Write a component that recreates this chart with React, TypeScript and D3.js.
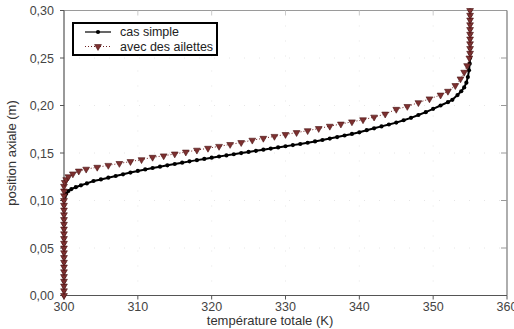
import * as d3 from 'd3'

// temperature (K) / axial position (m)
const simpleT = [
  300, 300, 300, 300, 300, 300, 300, 300, 300, 300, 300, 300, 300, 300, 300, 300, 300, 300, 300, 300, 300,
  300.1, 300.3, 300.6, 301.0, 301.6, 302.3, 303.1, 304, 305, 306, 307, 308, 309, 310, 311, 312, 313, 314, 315,
  316, 317, 318, 319, 320, 321, 322, 323, 324, 325, 326, 327, 328, 329, 330, 331, 332, 333, 334, 335, 336, 337,
  338, 339, 340, 341, 342, 343, 344, 345, 346, 347, 348, 349, 350, 351, 352, 352.6, 353.3, 353.8, 354.2, 354.5,
  354.7, 354.85, 354.95, 355, 355, 355, 355, 355, 355, 355, 355, 355, 355, 355,
]
const simpleY = [
  0, 0.005, 0.01, 0.015, 0.02, 0.025, 0.03, 0.035, 0.04, 0.045, 0.05, 0.055, 0.06, 0.065, 0.07, 0.075, 0.08, 0.085, 0.09, 0.095, 0.1,
  0.104, 0.107, 0.11, 0.112, 0.114, 0.116, 0.118, 0.1205, 0.1222, 0.124, 0.1258, 0.1276, 0.1294, 0.1311, 0.1327, 0.1342, 0.1356, 0.137, 0.1384,
  0.1398, 0.1412, 0.1425, 0.1438, 0.1451, 0.1463, 0.1475, 0.1487, 0.1499, 0.1511, 0.1523, 0.1535, 0.1547, 0.1559, 0.1571, 0.1583, 0.1595, 0.1608, 0.1622, 0.1637, 0.1652, 0.1668,
  0.1684, 0.1701, 0.1718, 0.174, 0.176, 0.178, 0.18, 0.182, 0.1845, 0.187, 0.19, 0.193, 0.1965, 0.2, 0.2035, 0.206, 0.211, 0.215, 0.219, 0.224,
  0.23, 0.237, 0.244, 0.25, 0.255, 0.26, 0.265, 0.27, 0.275, 0.28, 0.285, 0.29, 0.295, 0.3,
]

const finsT = [
  300, 300, 300, 300, 300, 300, 300, 300, 300, 300, 300, 300, 300, 300, 300, 300, 300, 300, 300, 300, 300, 300, 300, 300,
  300.1, 300.3, 300.6, 301.2, 302, 303, 304.5, 306, 307.5, 309, 310.5, 312, 313.5, 315, 316.5, 318, 319.5, 321, 322.5,
  324, 325.5, 327, 328.5, 330, 331.5, 333, 334.5, 336, 337.5, 339, 340.5, 342, 343.5, 345, 346.5, 348, 349.5, 351, 352,
  353, 353.7, 354.2, 354.6, 354.9, 355, 355, 355, 355, 355, 355, 355, 355, 355, 355,
]
const finsY = [
  0, 0.005, 0.01, 0.015, 0.02, 0.025, 0.03, 0.035, 0.04, 0.045, 0.05, 0.055, 0.06, 0.065, 0.07, 0.075, 0.08, 0.085, 0.09, 0.095, 0.1, 0.105, 0.11, 0.115,
  0.119, 0.122, 0.125, 0.128, 0.131, 0.133, 0.135, 0.137, 0.139, 0.141, 0.143, 0.1455, 0.147, 0.149, 0.151, 0.153, 0.155, 0.157, 0.159,
  0.161, 0.1635, 0.1655, 0.1675, 0.1695, 0.1715, 0.1735, 0.1758, 0.1782, 0.1805, 0.1828, 0.185, 0.1878, 0.191, 0.196, 0.199, 0.203, 0.207, 0.211, 0.215,
  0.221, 0.228, 0.235, 0.242, 0.25, 0.255, 0.26, 0.265, 0.27, 0.275, 0.28, 0.285, 0.29, 0.295, 0.3,
]

const xTicks = [300, 310, 320, 330, 340, 350, 360]
const yTicks = [0, 0.05, 0.1, 0.15, 0.2, 0.25, 0.3]
const seriesNames = ['cas simple', 'avec des ailettes']

const W = 514
const H = 329
const FONT = 'Liberation Sans, Arial, sans-serif'
const RED = '#6e2121'

export default function App() {
  const x = d3.scaleLinear().domain([300, 360]).range([64, 507])
  const y = d3.scaleLinear().domain([0, 0.3]).range([295.5, 10.5])

  const simple = simpleT.map((t, i) => [t, simpleY[i]] as [number, number])
  const fins = finsT.map((t, i) => [t, finsY[i]] as [number, number])

  const line = d3.line<[number, number]>().x(d => x(d[0])).y(d => y(d[1]))
  const tri = d3.symbol().type(d3.symbolTriangle).size(20)()

  const fmt = (v: number) => v.toFixed(2).replace('.', ',')
  const [x0, x1] = x.range()
  const [y0, y1] = y.range()

  return (
    <svg width={W} height={H} style={{ position: 'absolute', left: 0, top: 0, background: '#fff' }} fontFamily={FONT}>
      {/* faint grid */}
      {xTicks.slice(1, -1).map(t => (
        <line key={'gx' + t} x1={x(t)} x2={x(t)} y1={y1} y2={y0} stroke="#e6e6e6" strokeDasharray="1,14" />
      ))}
      {yTicks.slice(1, -1).map(t => (
        <line key={'gy' + t} x1={x0} x2={x1} y1={y(t)} y2={y(t)} stroke="#e6e6e6" strokeDasharray="1,14" />
      ))}

      {/* frame */}
      <line x1={x0} x2={x1} y1={y1} y2={y1} stroke="#9a9a9a" strokeWidth={1.2} />
      <line x1={x1} x2={x1} y1={y1} y2={y0} stroke="#777" strokeWidth={1.2} />
      {yTicks.slice(1, -1).map(t => (
        <line key={'ry' + t} x1={x1 - 6} x2={x1} y1={y(t)} y2={y(t)} stroke="#999" />
      ))}
      {xTicks.slice(1, -1).map(t => (
        <line key={'tx' + t} x1={x(t)} x2={x(t)} y1={y1} y2={y1 + 5} stroke="#ccc" />
      ))}

      {/* axes */}
      <line x1={x0} x2={x1} y1={y0} y2={y0} stroke="#555" strokeWidth={1.2} />
      <line x1={x0} x2={x0} y1={y1} y2={y0} stroke="#555" strokeWidth={1.2} />
      {xTicks.map(t => (
        <g key={'xt' + t}>
          <line x1={x(t)} x2={x(t)} y1={y0} y2={y0 + 4} stroke="#555" />
          <text x={x(t)} y={y0 + 15} textAnchor="middle" fontSize={12.5} fill="#444">{t}</text>
        </g>
      ))}
      {yTicks.map(t => (
        <g key={'yt' + t}>
          <line x1={x0 - 4} x2={x0} y1={y(t)} y2={y(t)} stroke="#555" />
          <text x={x0 - 10} y={y(t) + 4.5} textAnchor="end" fontSize={12.5} fill="#444">{fmt(t)}</text>
        </g>
      ))}
      <text x={270} y={325} textAnchor="middle" fontSize={13} fill="#333">température totale (K)</text>
      <text transform={`translate(16,${(y0 + y1) / 2}) rotate(-90)`} textAnchor="middle" fontSize={13} fill="#333">position axiale (m)</text>

      {/* series: cas simple */}
      <path d={line(simple) || ''} fill="none" stroke="#000" strokeWidth={2} />
      {simple.map((d, i) => (
        <circle key={'s' + i} cx={x(d[0])} cy={y(d[1])} r={2.1} fill="#000" />
      ))}

      {/* series: avec des ailettes */}
      <path d={line(fins) || ''} fill="none" stroke={RED} strokeWidth={1} strokeDasharray="1,2" />
      {fins.map((d, i) => (
        <path key={'f' + i} d={tri || ''} transform={`translate(${x(d[0])},${y(d[1])}) rotate(180)`} fill="#7d3030" stroke="#4a1414" strokeWidth={0.6} />
      ))}

      {/* legend */}
      <rect x={73} y={23} width={144} height={32} fill="#fff" stroke="#000" strokeWidth={2} />
      <line x1={85} x2={111} y1={32} y2={32} stroke="#000" strokeWidth={1.2} />
      <circle cx={98} cy={32} r={2.1} fill="#000" />
      <text x={120} y={36} fontSize={12.5} fill="#222">{seriesNames[0]}</text>
      <line x1={85} x2={111} y1={46.5} y2={46.5} stroke={RED} strokeWidth={1} strokeDasharray="1,2" />
      <path d={tri || ''} transform="translate(98,46.5) rotate(180)" fill="#7d3030" stroke="#4a1414" strokeWidth={0.6} />
      <text x={120} y={51} fontSize={12.5} fill="#222">{seriesNames[1]}</text>
    </svg>
  )
}
